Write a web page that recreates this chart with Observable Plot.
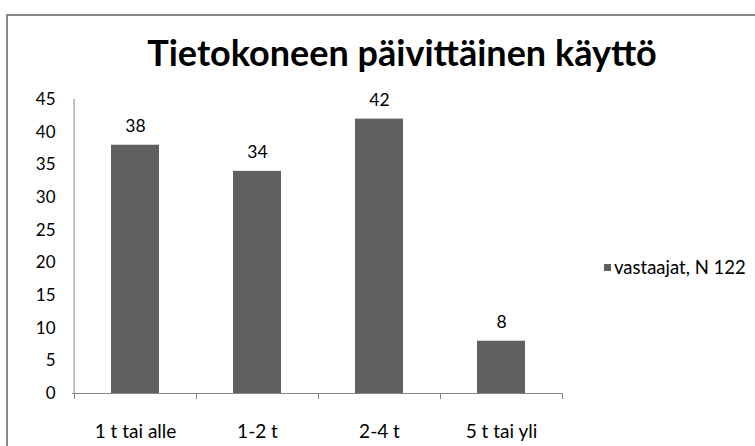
<!DOCTYPE html>
<html><head><meta charset="utf-8">
<script src="https://cdn.jsdelivr.net/npm/d3@7"></script>
<script src="https://cdn.jsdelivr.net/npm/@observablehq/plot@0.6"></script>
<style>
html,body{margin:0;padding:0;}
body{width:755px;height:446px;overflow:hidden;background:#fff;font-family:Lato,sans-serif;position:relative;color:#000}
#border{position:absolute;left:6px;top:14px;width:900px;height:600px;border:2px solid #878787;box-sizing:border-box}
#title{position:absolute;left:0;top:30px;width:804px;text-align:center;font-weight:bold;font-size:36px;line-height:44px;white-space:nowrap}
#chart{position:absolute;left:0;top:85px}
#legend{position:absolute;left:604px;top:257px;font-size:18.5px;line-height:20px;display:flex;align-items:center;white-space:nowrap}
#legend .sw{display:inline-block;width:7px;height:7px;margin-right:3px}
</style>
</head><body>
<div id="border"></div>
<div id="title"></div>
<div id="chart"></div>
<div id="legend"><span class="sw"></span><span class="lt"></span></div>
<script>
const titleText = "Tietokoneen päivittäinen käyttö";
const categories = ["1 t tai alle", "1-2 t", "2-4 t", "5 t tai yli"];
const values = [38, 34, 42, 8];
const seriesName = "vastaajat, N 122";
const yTicks = [0, 5, 10, 15, 20, 25, 30, 35, 40, 45];

const barColor = "#606060";
const axisColor = "#868686";

const data = categories.map((c, i) => ({cat: c, val: values[i]}));

document.getElementById("title").textContent = titleText;
document.querySelector("#legend .lt").textContent = seriesName;
document.querySelector("#legend .sw").style.background = barColor;

const boundaryTicks = (index, scales, vals, dims) => {
  const x = scales.x;
  const y = scales.y;
  const doms = x.domain();
  const bw = x.bandwidth ? x.bandwidth() : (dims.width - dims.marginLeft - dims.marginRight) / doms.length;
  const xs = doms.map(c => x(c)).concat([x(doms[doms.length - 1]) + bw]);
  const y0 = y(0);
  const g = d3.create("svg:g").attr("stroke", axisColor).attr("stroke-width", 1);
  for (const xv of xs) {
    g.append("line").attr("x1", Math.round(xv) + 0.5).attr("x2", Math.round(xv) + 0.5)
      .attr("y1", y0).attr("y2", y0 + 6);
  }
  return g.node();
};

const chart = Plot.plot({
  width: 755,
  height: 361,
  marginTop: 14,
  marginBottom: 53,
  marginLeft: 72,
  marginRight: 192,
  style: {fontFamily: "Lato, sans-serif", fontSize: "17.5px", color: "#000", background: "transparent"},
  x: {domain: categories, padding: 0, label: null},
  y: {domain: [0, 45], label: null},
  marks: [
    Plot.axisY({ticks: yTicks, tickSize: 0, tickPadding: 17, label: null, fontSize: 17}),
    Plot.axisX({tickSize: 0, tickPadding: 31, label: null, fontSize: 19}),
    Plot.barY(data, {x: "cat", y: "val", fill: barColor, insetLeft: 37, insetRight: 37}),
    Plot.ruleX([0], {x: () => categories[0], y1: 0, y2: 45, stroke: axisColor, dx: -61.4, strokeWidth: 1}),
    Plot.ruleY([0], {stroke: axisColor, strokeWidth: 1}),
    boundaryTicks,
    Plot.text(data, {x: "cat", y: "val", text: d => String(d.val), dy: -19, fill: "#000", fontSize: 17.5})
  ]
});
document.getElementById("chart").appendChild(chart);
</script>
</body></html>
